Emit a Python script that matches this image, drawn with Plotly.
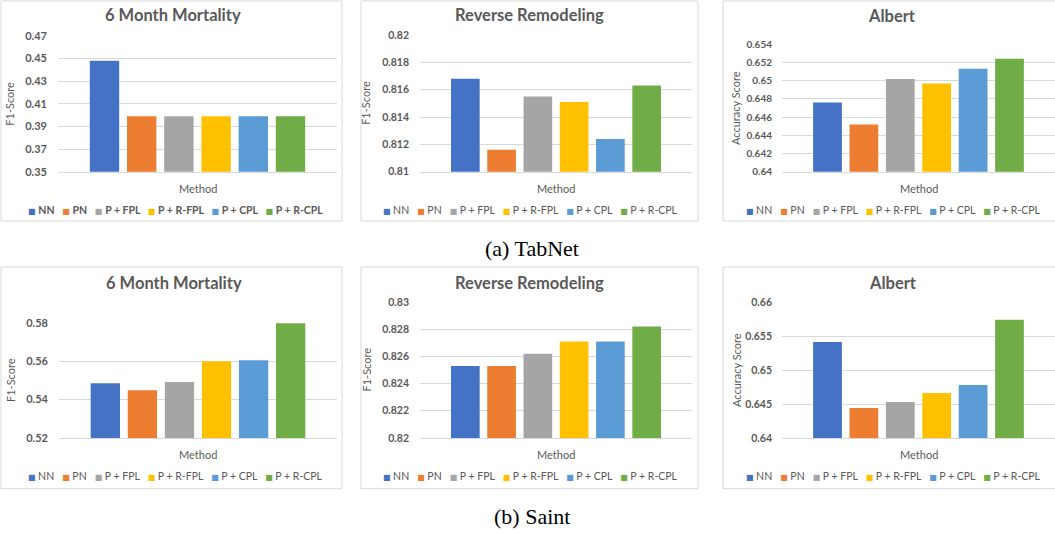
import plotly.graph_objects as go

# ---------------- data ----------------
methods = ["NN", "PN", "P + FPL", "P + R-FPL", "P + CPL", "P + R-CPL"]
colors = ["#4472C4", "#ED7D31", "#A5A5A5", "#FFC000", "#5B9BD5", "#70AD47"]

panel_titles = ["6 Month Mortality", "Reverse Remodeling", "Albert"]
y_titles = ["F1-Score", "F1-Score", "Accuracy Score"]
x_title = "Method"
captions = ["(a) TabNet", "(b) Saint"]

tabnet_mortality = [0.448, 0.399, 0.399, 0.399, 0.399, 0.399]
tabnet_remodeling = [0.8168, 0.8116, 0.8155, 0.8151, 0.8124, 0.8163]
tabnet_albert = [0.6476, 0.6452, 0.6502, 0.6497, 0.6513, 0.6524]

saint_mortality = [0.5485, 0.5448, 0.5491, 0.5599, 0.5604, 0.5797]
saint_remodeling = [0.8253, 0.8253, 0.8262, 0.8271, 0.8271, 0.8282]
saint_albert = [0.6541, 0.6444, 0.6453, 0.6466, 0.6478, 0.6574]

tabnet_mortality_ticks = [0.35, 0.37, 0.39, 0.41, 0.43, 0.45, 0.47]
tabnet_remodeling_ticks = [0.81, 0.812, 0.814, 0.816, 0.818, 0.82]
tabnet_albert_ticks = [0.64, 0.642, 0.644, 0.646, 0.648, 0.65, 0.652, 0.654]
saint_mortality_ticks = [0.52, 0.54, 0.56, 0.58]
saint_remodeling_ticks = [0.82, 0.822, 0.824, 0.826, 0.828, 0.83]
saint_albert_ticks = [0.64, 0.645, 0.65, 0.655, 0.66]

# ---------------- layout helpers ----------------
W, H = 1055, 533
GREY = "#595959"
LINE = "#D9D9D9"
FONT = "Lato"


def fx(p):
    return p / W


def fy(p):
    return 1 - p / H


panels = [
    dict(vals=tabnet_mortality, ticks=tabnet_mortality_ticks, t=0,
         box=(1, 1, 342, 221), plot=(58, 35.7, 337, 171.7),
         title_xy=(173, 15), leg=(175.5, 210), bold_leg=True, ytx=10,
         tfs=11, tstand=10),
    dict(vals=tabnet_remodeling, ticks=tabnet_remodeling_ticks, t=1,
         box=(361, 1, 698, 221), plot=(420, 35, 692, 171.7),
         title_xy=(529.3, 15), leg=(530.8, 210), bold_leg=False, ytx=365.5,
         tfs=10.5, tstand=10),
    dict(vals=tabnet_albert, ticks=tabnet_albert_ticks, t=2,
         box=(723, 1, 1062, 221), plot=(782, 44.3, 1055, 171.7),
         title_xy=(891.7, 16), leg=(893.3, 210), bold_leg=False, ytx=736,
         tfs=10, tstand=9),
    dict(vals=saint_mortality, ticks=saint_mortality_ticks, t=0,
         box=(1, 267, 342, 488.7), plot=(59, 322.7, 337, 438),
         title_xy=(173.7, 282.7), leg=(175.5, 476.3), bold_leg=False, ytx=10.7,
         tfs=11, tstand=10),
    dict(vals=saint_remodeling, ticks=saint_remodeling_ticks, t=1,
         box=(361, 267, 698, 488.7), plot=(420, 302, 692, 438),
         title_xy=(529.2, 282.7), leg=(530.8, 476.3), bold_leg=False, ytx=365.5,
         tfs=10.5, tstand=10),
    dict(vals=saint_albert, ticks=saint_albert_ticks, t=2,
         box=(723, 267, 1062, 488.7), plot=(782, 302, 1055, 438),
         title_xy=(892.5, 282.7), leg=(893.5, 476.3), bold_leg=False, ytx=736,
         tfs=10.5, tstand=9),
]

fig = go.Figure()
annotations = []
shapes = []
layout_axes = {}

for i, p in enumerate(panels, start=1):
    sfx = "" if i == 1 else str(i)
    for m, c, v in zip(methods, colors, p["vals"]):
        fig.add_trace(go.Bar(
            x=[x_title], y=[v], name=m, marker=dict(color=c, line=dict(width=0)),
            xaxis="x" + sfx, yaxis="y" + sfx, showlegend=False,
        ))
    x0, y0, x1, y1 = p["plot"]
    layout_axes["xaxis" + sfx] = dict(
        domain=[fx(x0), fx(x1)], anchor="y" + sfx, type="category",
        range=[-0.5, 0.5], showticklabels=False, showgrid=False,
        showline=True, linecolor=LINE, linewidth=1, ticks="",
        automargin=False, fixedrange=True,
    )
    tks = p["ticks"]
    layout_axes["yaxis" + sfx] = dict(
        domain=[fy(y1), fy(y0)], anchor="x" + sfx,
        range=[tks[0], tks[-1]], tickmode="array", tickvals=tks,
        ticktext=[("%g" % t) for t in tks],
        showgrid=True, gridcolor=LINE, gridwidth=1, zeroline=False,
        showline=False, ticks="", ticklabelstandoff=p["tstand"],
        tickfont=dict(family=FONT, size=p["tfs"], color=GREY, weight="bold"),
        automargin=False, fixedrange=True,
    )
    # axis titles
    annotations.append(dict(text=x_title, xref="paper", yref="paper",
                            x=fx((x0 + x1) / 2), y=fy(y1 + 16.5),
                            xanchor="center", yanchor="middle", showarrow=False,
                            font=dict(family=FONT, size=11, color=GREY)))
    annotations.append(dict(text=y_titles[p["t"]], xref="paper", yref="paper",
                            x=fx(p["ytx"]), y=fy((y0 + y1) / 2), textangle=-90,
                            xanchor="center", yanchor="middle", showarrow=False,
                            font=dict(family=FONT, size=11, color=GREY)))
    # panel frame
    bx0, by0, bx1, by1 = p["box"]
    shapes.append(dict(type="rect", xref="paper", yref="paper",
                       x0=fx(bx0), x1=fx(bx1), y0=fy(by1), y1=fy(by0),
                       line=dict(color=LINE, width=1), fillcolor="rgba(0,0,0,0)",
                       layer="below"))
    # panel title
    tx, ty = p["title_xy"]
    annotations.append(dict(text=panel_titles[p["t"]], xref="paper", yref="paper",
                            x=fx(tx), y=fy(ty), xanchor="center", yanchor="middle",
                            showarrow=False,
                            font=dict(family=FONT, size=16.5, color=GREY, weight="bold")))
    # legend (built from the series names and colours)
    sep = "\u00a0" * 3
    parts = []
    for m, c in zip(methods, colors):
        parts.append("<span style='font-family:DejaVu Sans;font-size:8px;fill:%s'>\u25a0\u00a0</span>%s" % (c, m))
    lx, ly = p["leg"]
    annotations.append(dict(text=sep.join(parts), xref="paper", yref="paper",
                            x=fx(lx), y=fy(ly), xanchor="center", yanchor="middle",
                            showarrow=False,
                            font=dict(family=FONT, size=10.5, color=GREY,
                                      weight="bold" if p["bold_leg"] else "normal")))

# captions
annotations.append(dict(text=captions[0], xref="paper", yref="paper", x=fx(532), y=fy(248.5),
                        xanchor="center", yanchor="middle", showarrow=False,
                        font=dict(family="Liberation Serif", size=22, color="black")))
annotations.append(dict(text=captions[1], xref="paper", yref="paper", x=fx(532), y=fy(516),
                        xanchor="center", yanchor="middle", showarrow=False,
                        font=dict(family="Liberation Serif", size=22, color="black")))

fig.update_layout(
    width=W, height=H, margin=dict(l=0, r=0, t=0, b=0, autoexpand=False),
    paper_bgcolor="white", plot_bgcolor="white",
    barmode="group", bargap=0.2, bargroupgap=0.21,
    showlegend=False, annotations=annotations, shapes=shapes,
    **layout_axes,
)

fig.write_html("out.html", config={"displayModeBar": False},
               post_script="document.body.style.margin='0px';document.body.style.overflow='hidden';")
